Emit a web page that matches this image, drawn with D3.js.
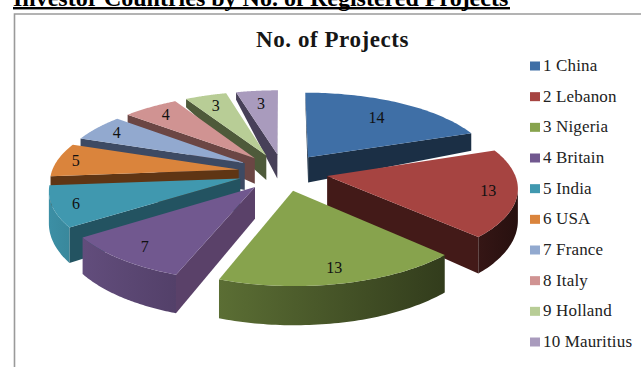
<!DOCTYPE html>
<html>
<head>
<meta charset="utf-8">
<script src="https://cdn.jsdelivr.net/npm/d3@7/dist/d3.min.js"></script>
<style>
html,body{margin:0;padding:0;background:#fff;overflow:hidden}
svg{display:block}
text{font-family:"Liberation Serif",serif}
</style>
</head>
<body>
<svg id="chart" width="641" height="367"></svg>
<script>
// Chart content
const heading = "Investor Countries by No. of Registered Projects";
const chartTitle = "No. of Projects";
const categories = ["1 China","2 Lebanon","3 Nigeria","4 Britain","5 India","6 USA","7 France","8 Italy","9 Holland","10 Mauritius"];
const projects = [14,13,13,7,6,5,4,4,3,3];

// Slice palette: top faces and the darker cut faces
const topColors = ["#3f6fa6","#a64441","#87a34d","#71588f","#4098af","#da843c","#92a9cf","#d09392","#b8cd96","#a99bbd"];
const cutColors = ["#1b2f45","#431a18","#3a4719","#5a4169","#235361","#5f3514","#3d4a63","#6b4644","#4e5a3a","#474058"];

// How far along each slice's middle the value label sits
const labelReach = [0.72,0.85,0.85,0.84,0.88,0.9,0.86,0.84,0.82,0.78];

const svg = d3.select("#chart");
const defs = svg.append("defs");

// Page heading, cut by the top of the page, and the chart frame
svg.append("text").attr("x",13).attr("y",6).attr("font-size",24).attr("font-weight","bold").text(heading);
svg.append("rect").attr("x",13).attr("y",7).attr("width",497).attr("height",2.4).attr("fill","#000");
svg.append("path").attr("d","M14.5,367V14H641").attr("fill","none").attr("stroke","#9a9a9a").attr("stroke-width",1.6);

svg.append("text").attr("x",332.5).attr("y",47).attr("text-anchor","middle")
  .attr("font-size",23).attr("font-weight","bold").attr("letter-spacing",0.55).attr("fill","#161616").text(chartTitle);

// Angles run clockwise from twelve o'clock
const arcs = d3.pie().sort(null).value(d=>d)(projects);

// Ground-plane projection: X to the right, Y away from the viewer
const centre = {x:283, y:172};
const perspectiveX = 0.13, perspectiveY = 0.135;
const radiusX = d3.scaleLinear().domain([0,1]).range([0,187]);
const radiusY = d3.scaleLinear().domain([0,1]).range([0,77]);
const explode = 0.24;
const wallHeight = d3.scaleLinear().domain([-1.2,-0.7,0,0.5,1.1,1.3]).range([39,36,30,18,8,7]);
const rimShade = d3.scaleLinear().domain([-1,1]).range([0.88,0.3]);

function project(X,Y,drop){
  return [centre.x+radiusX(X)/(1+perspectiveX*Y), centre.y-radiusY(Y)/(1+perspectiveY*Y)+(drop?wallHeight(Y):0)];
}
const shade=(c,k)=>{const r=d3.rgb(c);return d3.rgb(r.r*k,r.g*k,r.b*k).formatHex();};
const outline=d3.line();

const sliceData = arcs.map((a,i)=>{
  const mid=(a.startAngle+a.endAngle)/2;
  return {i,a,mid,ox:explode*Math.sin(mid),oy:explode*Math.cos(mid)};
}).sort((p,q)=>(q.oy-p.oy));

const sliceLayer = svg.append("g");
sliceData.forEach(s=>{
  const g=sliceLayer.append("g");
  const ring=d3.range(0,61).map(k=>{
    const t=s.a.startAngle+(s.a.endAngle-s.a.startAngle)*k/60;
    return {X:s.ox+Math.sin(t),Y:s.oy+Math.cos(t)};
  });
  const apex={X:s.ox,Y:s.oy};
  const quad=(p,q)=>[project(p.X,p.Y),project(q.X,q.Y),project(q.X,q.Y,true),project(p.X,p.Y,true)];
  // keep only the faces turned to the viewer
  const cutWall=(p,q)=>{
    const poly=quad(p,q);
    if(d3.polygonArea(poly)>0) g.append("path").attr("d",outline(poly)+"Z").attr("fill",cutColors[s.i]);
  };
  cutWall(apex,ring[0]);
  cutWall(ring[ring.length-1],apex);

  // the curved wall is one shape, lit from the left
  const facing=ring.filter((p,k)=>k<ring.length-1 ? d3.polygonArea(quad(p,ring[k+1]))>0 : d3.polygonArea(quad(ring[k-1],p))>0);
  if(facing.length>1){
    const xs=facing.map(p=>p.X), lo=d3.min(xs), hi=d3.max(xs);
    const id="rim"+s.i;
    const sx=X=>radiusX(X);
    const grad=defs.append("linearGradient").attr("id",id).attr("gradientUnits","userSpaceOnUse")
      .attr("x1",d3.min(facing,p=>project(p.X,p.Y)[0])).attr("x2",d3.max(facing,p=>project(p.X,p.Y)[0])).attr("y1",0).attr("y2",0);
    grad.append("stop").attr("offset",0).attr("stop-color",shade(topColors[s.i],rimShade(lo)));
    grad.append("stop").attr("offset",1).attr("stop-color",shade(topColors[s.i],rimShade(hi)));
    const band=[...facing.map(p=>project(p.X,p.Y)),...facing.slice().reverse().map(p=>project(p.X,p.Y,true))];
    g.append("path").attr("d",outline(band)+"Z").attr("fill",`url(#${id})`);
  }
  const top=[project(apex.X,apex.Y),...ring.map(p=>project(p.X,p.Y))];
  g.append("path").attr("d",outline(top)+"Z").attr("fill",topColors[s.i]);
});

// Value labels
arcs.forEach((a,i)=>{
  const mid=(a.startAngle+a.endAngle)/2,r=labelReach[i]+explode;
  const [x,y]=project(r*Math.sin(mid),r*Math.cos(mid));
  svg.append("text").attr("x",x).attr("y",y).attr("dy","0.35em").attr("text-anchor","middle")
    .attr("font-size",16).attr("fill","#111").text(projects[i]);
});

// Legend
const legendY=d3.scalePoint().domain(categories).range([66,342]);
const legend=svg.selectAll("g.item").data(categories).join("g").attr("class","item")
  .attr("transform",d=>`translate(530,${legendY(d)})`);
legend.append("rect").attr("y",-4.5).attr("width",10).attr("height",9).attr("fill",(d,i)=>topColors[i]);
legend.append("text").attr("x",13).attr("y",5).attr("font-size",17).attr("letter-spacing",0.15).attr("fill","#222").text(d=>d);
</script>
</body>
</html>
